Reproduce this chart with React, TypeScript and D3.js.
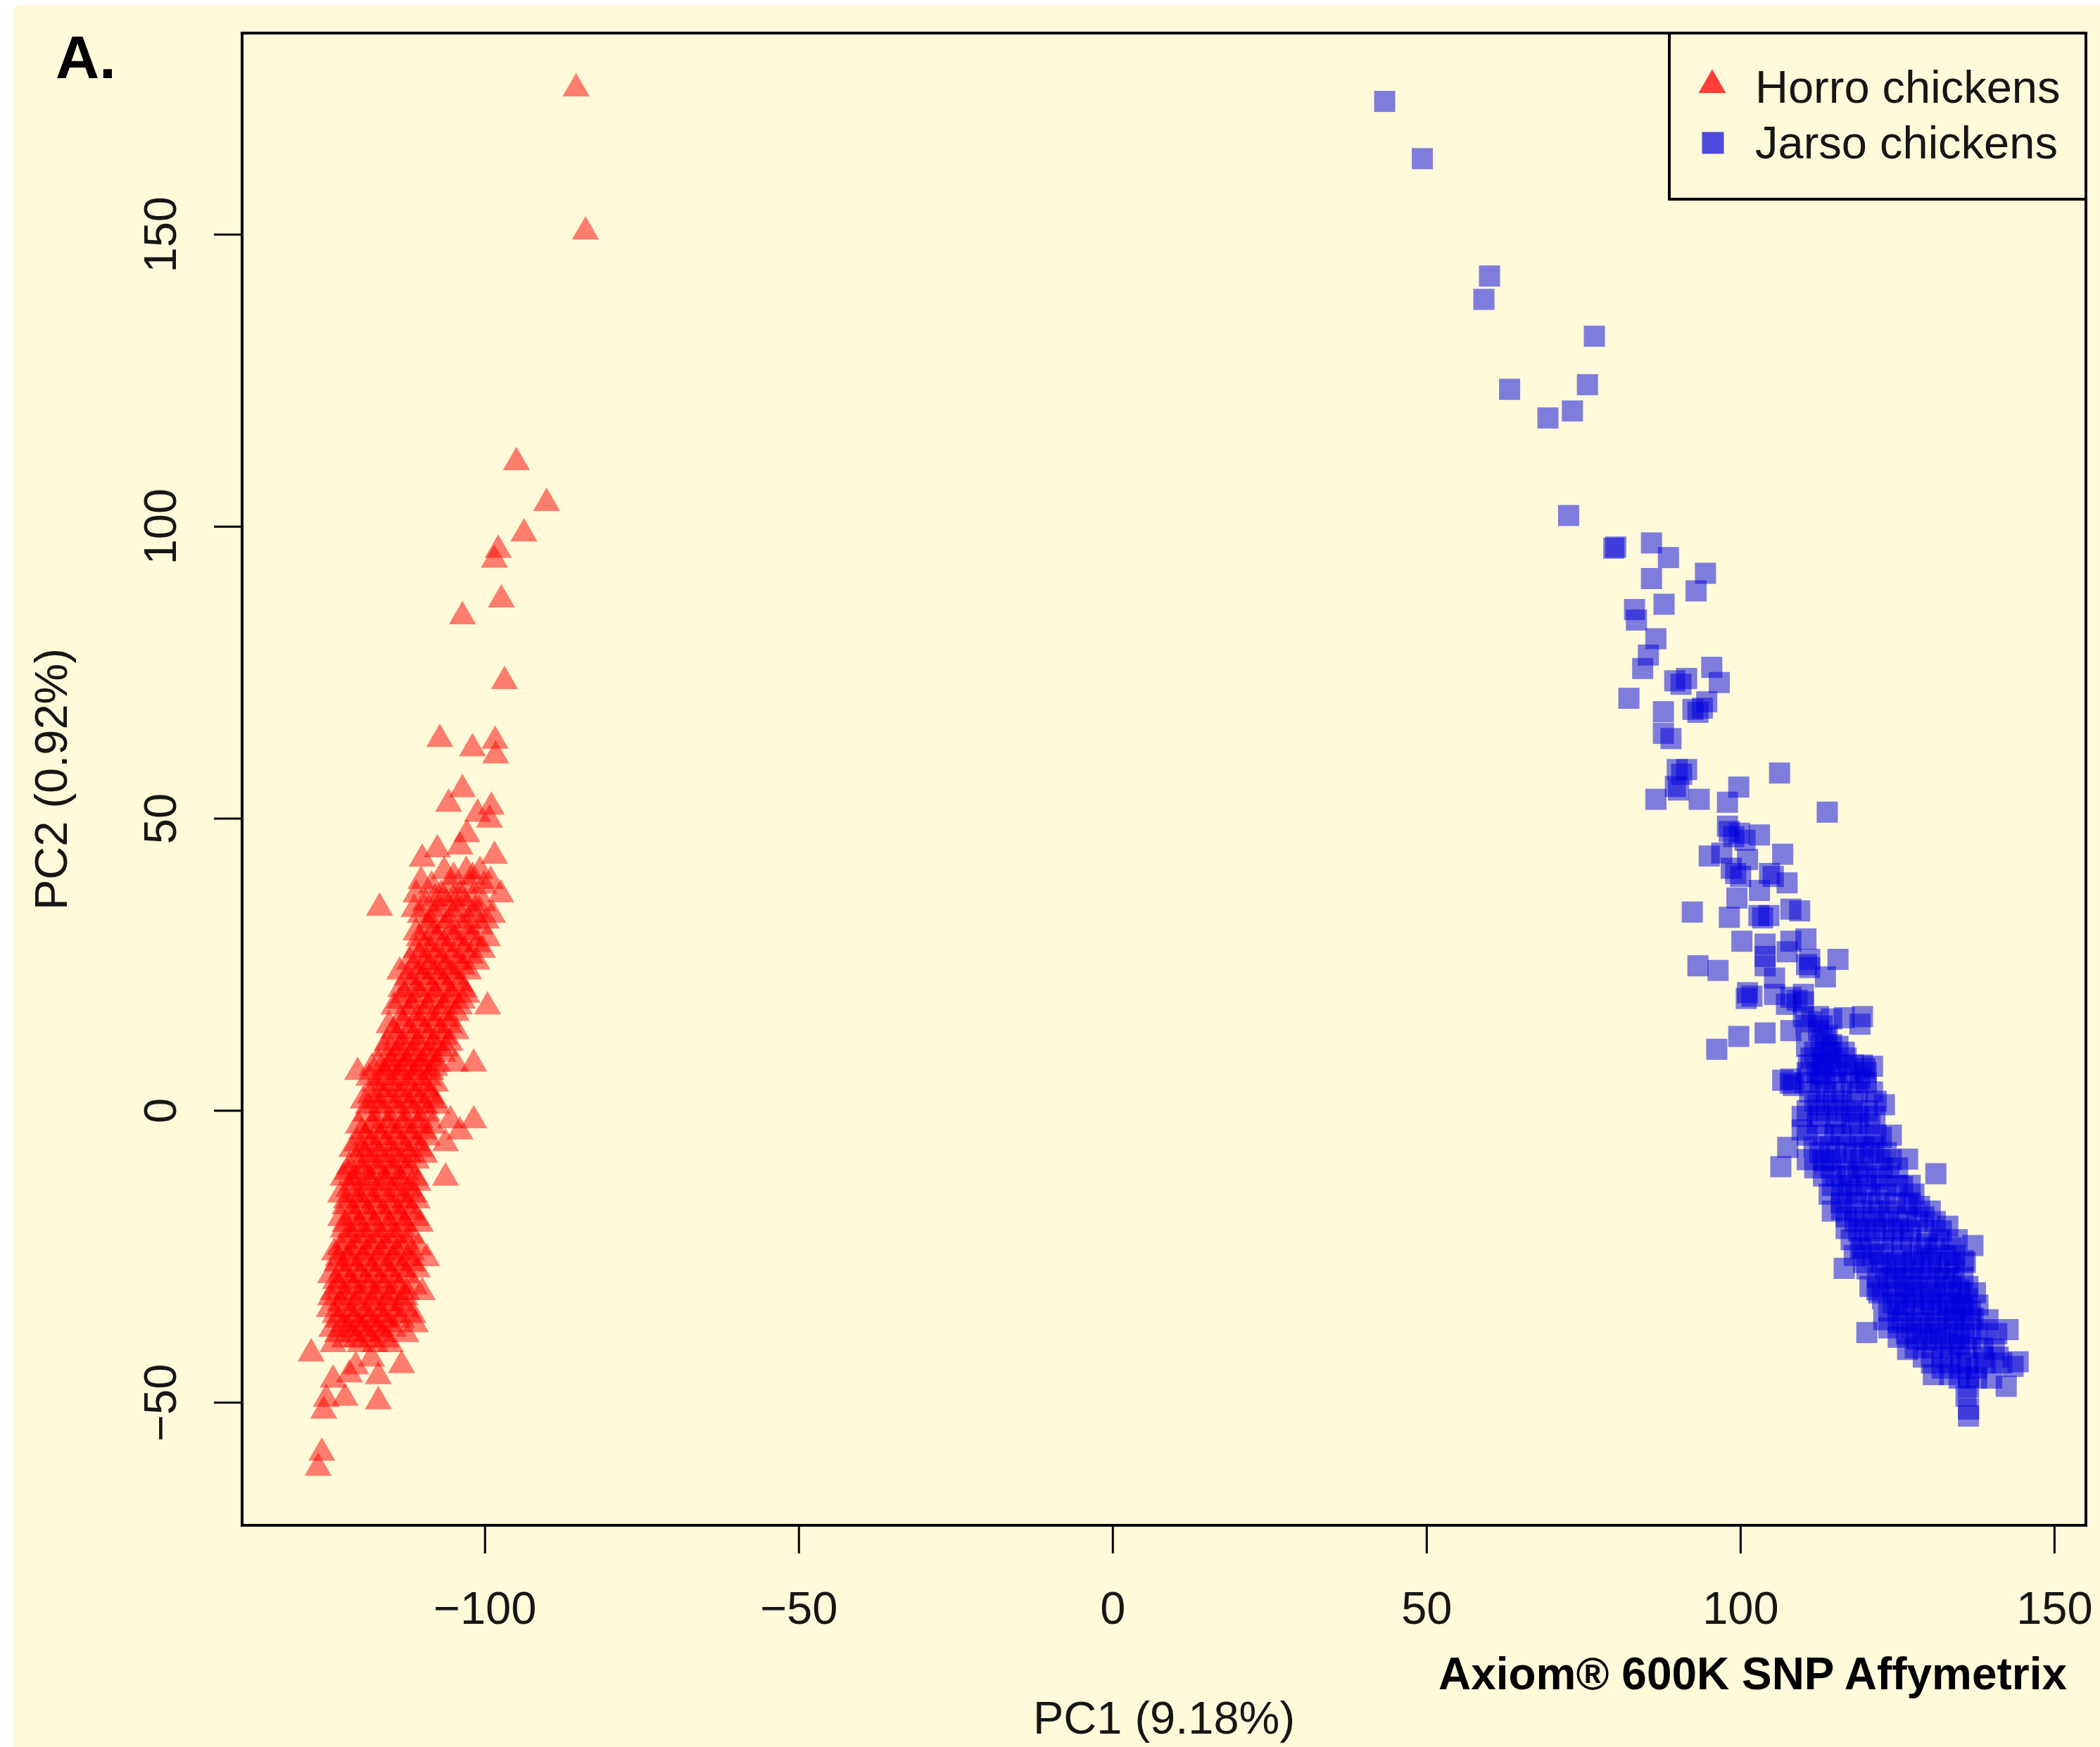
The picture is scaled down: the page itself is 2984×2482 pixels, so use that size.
import React from 'react';
import * as d3 from 'd3';

const xTicks = [-100, -50, 0, 50, 100, 150];
const yTicks = [-50, 0, 50, 100, 150];
const seriesNames = ['Horro chickens', 'Jarso chickens'];
const xLabel = 'PC1 (9.18%)';
const yLabel = 'PC2 (0.92%)';
const panelLabel = 'A.';
const platformLabel = 'Axiom® 600K SNP Affymetrix';

// Horro chickens: scattered individuals [PC1, PC2]
const horroScattered: [number, number][] = [
  [-85.5, 175], [-84, 150.5], [-95, 111], [-90.2, 104], [-93.8, 98.8], [-97.9, 96], [-98.5, 94.3],
  [-97.4, 87.5], [-103.6, 84.6], [-96.9, 73.5], [-107.2, 63.6], [-102, 62], [-98.4, 63.3], [-98.3, 60.8],
  [-103.6, 55], [-105.8, 52.5], [-99, 52], [-101.2, 50.8], [-99.3, 49.8], [-102.9, 47.3], [-107.6, 44.7],
  [-104, 45.2], [-98.5, 43.6], [-110, 43.1], [-110.2, 39.3], [-99.1, 39.3], [-116.8, 34.7],
  [-127.7, -41.6], [-113.3, -43.6], [-120.6, -43.8], [-118.1, -42.5], [-117, -45.5], [-121.6, -45.2],
  [-124.2, -46.1], [-125.3, -49.4], [-122.3, -49.2], [-117, -49.8], [-125.7, -51.4], [-126, -58.6], [-126.6, -61.2],
];

// Horro chickens: dense core, read row by row as [PC2, PC1 values]
const horroCoreRows: [number, number[]][] = [
  [41, [-106.5, -103, -100.8]],
  [40, [-105, -102]],
  [38.5, [-108.5, -105.5, -102.5, -100.2]],
  [37, [-111, -107, -104, -97.5]],
  [36.3, [-108, -105, -102]],
  [35.5, [-109.5, -106.2, -103.2, -100.3]],
  [34.5, [-111.3, -107.5, -104.5, -101.5]],
  [33.5, [-110.3, -108, -105, -101.7, -98.8]],
  [32.5, [-108.8, -105.7, -102.7, -99.8]],
  [31.5, [-109, -106.4, -103.6, -100.8]],
  [30.5, [-111, -108.2, -105.4, -102.5]],
  [29.5, [-110.5, -107.7, -105, -102.2, -99.6]],
  [28.5, [-109.4, -106.6, -104, -101.2]],
  [27.5, [-111, -108.6, -106, -103.3, -100.4]],
  [26.5, [-110.4, -107.8, -105.1, -102.3]],
  [25.5, [-112, -109.3, -106.8, -104.1, -101.3]],
  [24.6, [-111.4, -108.9, -106.3, -103.6]],
  [23.8, [-113.6, -110.5, -108, -105.5, -102.6]],
  [22.8, [-112.4, -109.8, -107.2, -104.8]],
  [21.8, [-111.7, -109.1, -106.6, -104]],
  [20.8, [-113.4, -110.9, -108.4, -106, -103.4]],
  [19.8, [-112.9, -110.3, -107.9, -105.3, -102.9]],
  [18.8, [-113.6, -111.2, -108.6, -106, -103.6]],
  [17.8, [-114.5, -111.6, -109, -106.5, -104.1, -99.6]],
  [16.7, [-112.2, -109.6, -107.1, -104.6]],
  [15.7, [-113.4, -110.8, -108.4, -105.9]],
  [14.6, [-115.3, -113, -110.4, -108, -105.7]],
  [13.6, [-114.6, -112, -109.6, -107.1, -104.6]],
  [12.6, [-114, -111.4, -108.9, -106.4]],
  [11.6, [-115.6, -113.1, -110.6, -108.1, -105.6]],
  [10.6, [-116, -113.6, -111.2, -108.7, -106.3]],
  [9.7, [-114.1, -111.6, -109.1, -106.7]],
  [8.9, [-115.6, -113.2, -110.8, -108.3]],
  [8.0, [-117, -114.9, -112.4, -110, -107.6, -104.7, -101.8]],
  [7.3, [-118, -115.5, -113, -110.5, -108]],
  [6.6, [-120.3, -116.1, -113.6, -111.1, -108.6]],
  [5.6, [-118.5, -116.3, -113.9, -111.4, -109]],
  [4.6, [-117.6, -115.1, -112.6, -110.1, -107.9]],
  [3.6, [-116.7, -114.2, -111.7, -109.3]],
  [2.6, [-118.3, -115.9, -113.4, -111.1, -108.7]],
  [1.7, [-119.4, -117.2, -114.8, -112.4, -110.2, -108]],
  [0.8, [-118.6, -116.6, -114.1, -111.9, -109.6, -107.7]],
  [-0.5, [-119, -116.5, -114, -111.6, -109.2]],
  [-1.7, [-117.6, -115.1, -112.7, -110.3, -105.5, -101.8]],
  [-2.6, [-120.2, -118, -115.6, -113.2, -110.8, -108.4]],
  [-3.6, [-119.6, -117.1, -114.6, -112.1, -109.6, -104]],
  [-4.6, [-119, -116.6, -114.2, -111.8, -109.2]],
  [-5.6, [-120.4, -118.1, -115.7, -113.3, -110.9, -106.3]],
  [-6.6, [-121.2, -119.6, -117.3, -114.9, -112.6, -110.2]],
  [-7.6, [-119.1, -116.9, -114.5, -112.1, -109.6]],
  [-8.6, [-120.5, -118, -115.6, -113.3, -110.9]],
  [-9.6, [-121.6, -119.4, -117.1, -114.7, -112.3]],
  [-10.5, [-121.9, -119.6, -117.3, -114.9, -112.6]],
  [-11.5, [-122.6, -120.9, -118.6, -116.1, -113.7, -111.1, -106.3]],
  [-12.4, [-121, -118.1, -115.7, -113.2, -110.7]],
  [-13.4, [-121.7, -119.3, -116.9, -114.5, -112.1]],
  [-14.4, [-123, -120.5, -118.3, -115.8, -113.4, -111.3]],
  [-15.4, [-122.1, -119.9, -117.6, -115.1, -112.7, -110.8]],
  [-16.4, [-122.3, -119.9, -117.5, -115.1, -112.7]],
  [-17.4, [-121.1, -118.7, -116.3, -113.9, -111.6]],
  [-18.4, [-123, -120.6, -118.2, -115.8, -113.4, -111]],
  [-19.4, [-122.3, -120.1, -117.7, -115.3, -112.9, -110.3]],
  [-20.4, [-122.6, -120.3, -117.9, -115.5, -113.1]],
  [-21.4, [-121.5, -119.1, -116.7, -114.3, -111.7]],
  [-22.4, [-122.3, -119.9, -117.5, -115.1, -112.6]],
  [-23.4, [-123.1, -120.7, -118.3, -115.9, -113.5, -110.6]],
  [-24.3, [-124, -121.3, -118.9, -116.5, -114.1, -111.7]],
  [-25.3, [-123.4, -121.9, -119.5, -117.1, -114.7, -112.3, -109.3]],
  [-26.2, [-123.6, -121.1, -118.7, -116.3, -113.9, -111.5]],
  [-27.2, [-122.7, -120.3, -117.9, -115.5, -113.1, -110.8]],
  [-28.2, [-124.6, -122.3, -119.9, -117.5, -115.1, -112.5]],
  [-29.2, [-123.8, -121.5, -119.1, -116.7, -114.3]],
  [-30.1, [-123.2, -120.8, -118.4, -116, -113.6, -111.3]],
  [-31.1, [-124.2, -122.1, -119.7, -117.3, -114.9, -112.5, -110]],
  [-32.0, [-124.6, -122.3, -119.9, -117.5, -115.1, -112.7]],
  [-33.0, [-123.1, -120.6, -118.1, -115.7, -113.3]],
  [-34.0, [-124.8, -122.2, -119.8, -117.4, -115, -112.5]],
  [-35.0, [-123.9, -121.3, -118.9, -116.5, -114.1, -111.5]],
  [-35.8, [-123.4, -120.9, -118.5, -116.1, -113.3]],
  [-36.6, [-122.5, -120.1, -117.7, -115.3, -111.1]],
  [-37.4, [-124.4, -121.9, -119.5, -117.1, -114.6]],
  [-38.3, [-123.5, -121.1, -118.7, -116.3, -112.6]],
  [-39.2, [-122.4, -120.5, -118.2, -115.8]],
  [-40.0, [-124.2, -119.9, -117.5, -115.1]],
];

// Jarso chickens: individually readable points [PC1, PC2]
const jarsoScattered: [number, number][] = [
  [43.3, 172.8], [49.3, 163], [60, 142.9], [59.1, 138.9], [76.7, 132.6], [63.2, 123.5], [75.6, 124.3],
  [73.2, 119.8], [69.3, 118.6], [72.6, 101.9], [79.8, 96.3], [80.1, 96.5], [85.8, 97.2], [88.5, 94.7],
  [94.4, 92], [92.9, 89], [85.8, 91.1], [87.8, 86.7], [83.1, 85.8], [83.4, 84],
  [86.5, 80.8], [85.3, 78], [84.4, 75.7], [82.2, 70.6], [89.5, 73.6], [90.5, 73], [91.4, 74], [95.4, 75.9],
  [96.6, 73.3], [87.7, 68.3], [92.4, 68.7], [93.2, 68.2], [93.9, 68.9], [94.6, 70], [87.7, 64.6], [88.9, 63.7],
  [89.9, 58.4], [90.6, 57.6], [91.4, 58.4], [90.1, 54.9], [89.6, 55.5], [86.5, 53.3], [93.4, 53.3], [99.7, 55.4],
  [97.9, 52.8], [106.2, 57.8], [113.8, 51.1], [97.9, 48.7], [98.2, 47.8], [98.9, 46.9], [99.8, 47.5],
  [100.7, 46.3], [103, 47.2], [95, 43.6], [97, 44.1], [101.1, 43], [106.7, 43.9], [98.5, 41.5], [99.2, 40.6],
  [100, 40.1], [104.6, 40.6], [105.2, 40.1], [107.4, 39], [103, 37.7], [99.4, 36.4], [92.3, 34], [98.2, 33.1],
  [102.9, 33.4], [103.5, 33], [104.5, 33.4], [108, 34.5], [109.4, 34.2], [100.2, 29], [103.9, 28.5], [108, 29],
  [110.4, 29.4], [103.9, 26.4], [107.4, 27.2], [111, 25.9], [110.5, 25], [111, 24.5], [115.5, 25.9], [93.2, 24.8],
  [96.4, 24], [103.9, 24.8], [105.4, 22.7], [113.5, 22.9], [101.1, 20.2], [101.8, 19.6], [100.9, 19.2],
  [105.4, 19.9], [108, 19.4], [109, 18.9], [107.3, 18.2], [110, 19.9], [110, 18.6], [110, 16.1], [111.3, 15.2],
  [112.4, 16.1], [114.5, 15.7], [116.5, 15.9], [119.4, 16.1], [119, 14.8], [110.4, 14.6], [113, 14.5],
  [112.4, 13.7], [113.8, 12.9], [113.5, 12.4], [114.5, 11.3], [108, 13.7], [103.9, 13.3], [99.7, 12.7],
  [96.2, 10.5], [113.5, 10], [114, 8.8], [114.5, 7.6], [119.4, 7.8], [120, 6.5], [121, 7.6], [112.8, 6.2],
  [108, 5.4], [108.4, 4.3], [113.5, 5.4], [119, 5.5],
  [107.9, 4.7], [106.7, 5.2], [113.1, 8.1], [119.8, 7.2], [112.3, 1], [115.4, 1], [118.4, -0.4], [122.9, 1],
  [109.8, -3.3], [107.5, -6.3], [106.4, -9.6], [113.5, -8.6], [115, -4.1], [118.4, -4.6], [122.4, -4.6],
  [126.6, -8.3], [131.1, -10.8], [118.7, -10.5], [121.7, -11.7], [116.1, -13.4], [118.4, -13.9], [125.8, -13],
  [116.1, -16.9], [126.6, -16], [128.5, -16.4], [133, -19.8], [116.8, -20.2], [119.8, -20.2], [122.9, -20.2],
  [125.8, -20.2], [129.6, -22.8], [137, -23.1], [116.5, -27], [119.1, -23.6], [122.1, -24.5], [124.3, -26.5],
  [127.4, -25.7], [130.3, -25.3], [134.1, -24.8], [135.5, -25.7], [121.7, -30.7], [123.5, -28.7], [126.6, -28.7],
  [129.6, -28.7], [132.5, -28.7], [134.8, -30.7], [124.3, -32.9], [127.4, -32], [130.3, -32.5], [133.3, -32.9],
  [135.2, -33.7], [125.1, -36.3], [128, -36.3], [131.1, -36.3], [134.1, -35.5], [137, -35.5], [142.6, -37.5],
  [139.2, -37.5], [120.1, -38], [125.1, -38.8], [126.6, -40.9], [129.6, -39.3], [132.5, -39.6], [134.8, -40.1],
  [140.4, -40.9], [144.2, -43], [143.4, -43.8], [130.7, -45.2], [133.3, -45.2], [136.3, -45.6], [136.3, -47.4],
  [142.3, -47.2], [135.9, -48.9], [136.3, -51.1], [136.3, -52.3],
];

// Jarso chickens: dense core, read row by row as [PC2, PC1 values]
const jarsoCoreRows: [number, number[]][] = [
  [11, [110.5, 112.8, 115.5]],
  [10, [111.8, 114.2, 116.5]],
  [9, [111.2, 116.8]],
  [7.8, [110.8, 113, 116, 118]],
  [6.5, [110.6, 112.2, 115.3, 117.2]],
  [4.8, [110.2, 112.6, 115, 117.6, 120]],
  [3.2, [111, 113.6, 116.1, 118.6, 121]],
  [1.6, [111.8, 114.8, 117.8, 121.6]],
  [0, [110.6, 113.7, 116.8, 120.2]],
  [-1, [109.8, 112.6, 115.6, 118.8, 121.4]],
  [-2.2, [112.2, 115.2, 117.7, 120.6]],
  [-4.2, [110.6, 113.2, 116, 119, 121.6, 124]],
  [-6.2, [111.7, 114.2, 116.7, 119.6, 121.2]],
  [-7.2, [112.6, 115.2, 118, 120.6, 123.2]],
  [-8.4, [110.6, 113.1, 116.2, 119.1, 122.2, 124]],
  [-9.8, [111.8, 114.4, 116.8, 119.4, 122.6, 125]],
  [-11.2, [113.2, 115.1, 117.2, 120.1, 123.6]],
  [-12.8, [114.6, 117.6, 120, 122.4, 125, 127]],
  [-14.3, [114.1, 117.1, 120.6, 123.1, 127.6]],
  [-15.8, [116, 119.4, 122, 124.6, 127]],
  [-17.2, [114.6, 118.1, 121.1, 123.6, 130.2]],
  [-18.2, [116.8, 119.8, 123, 126.4, 129.2]],
  [-19, [118.2, 121.6, 125.1, 128.1, 131]],
  [-20.6, [118.8, 121.4, 124.4, 127, 129.8, 132]],
  [-22.1, [117.6, 120.6, 124.1, 127.1, 131.6, 134.5]],
  [-23.5, [119.4, 122.8, 125.6, 128.6, 131, 133.6]],
  [-24.8, [118.1, 121.1, 125.6, 129.1, 132.6]],
  [-26, [119.6, 122.4, 124.8, 127.6, 130.4, 133.2, 135.8]],
  [-27.1, [120.1, 123.1, 126.1, 128.6, 131.6, 134]],
  [-28.6, [121.8, 124.8, 127.4, 130, 133, 135.4]],
  [-30.1, [120.6, 124.1, 126.1, 128.1, 131.1, 133.6, 136.2]],
  [-31.2, [122, 125, 127.6, 130.2, 132.6, 135, 137.4]],
  [-32.2, [122.6, 126.1, 129.1, 131.6, 136.1]],
  [-33.3, [125, 127.6, 130.4, 133, 135.4, 137.8]],
  [-34.3, [123.6, 126.1, 129.1, 132.1, 134.1, 136.6]],
  [-35.8, [122.8, 125.8, 128.6, 131.4, 134, 136.6, 139.4]],
  [-37.2, [123.6, 127.1, 130.1, 133.1, 135.6]],
  [-38.2, [126.4, 129, 131.8, 134.8, 137.6, 140.8]],
  [-39.1, [128.1, 131.1, 134.1, 136.6]],
  [-40.6, [127.8, 130.6, 133.4, 136, 138.6]],
  [-42.2, [129.1, 132.1, 135.1, 138.6, 141]],
  [-43.2, [130.4, 133.4, 136.2, 139, 141.6]],
  [-44.1, [132.1, 135.1, 137.6]],
  [-45.8, [134.8, 137.6, 140]],
];

const expandRows = (rows: [number, number[]][]): [number, number][] =>
  rows.flatMap(([y, xs]) => xs.map((x) => [x, y] as [number, number]));

const horro = [...horroScattered, ...expandRows(horroCoreRows)];
const jarso = [...jarsoScattered, ...expandRows(jarsoCoreRows)];

const CREAM = '#FFFAD9';
const INK = '#161616';
const FONT = "'Liberation Sans', Arial, sans-serif";

export default function App() {
  const box = { left: 344, top: 47, right: 2964, bottom: 2167 };
  const x = d3.scaleLinear().domain([-138.7, 155.0]).range([box.left, box.right]);
  const y = d3.scaleLinear().domain([-71, 184.5]).range([box.bottom, box.top]);

  const tri = d3.symbol().type(d3.symbolTriangle).size(640)() as string;
  const triLegend = d3.symbol().type(d3.symbolTriangle).size(660)() as string;
  const sq = 30;
  const sqLegend = 31;

  const fmt = (v: number) => (v < 0 ? '\u2212' + Math.abs(v) : String(v));

  return (
    <svg
      width={2984}
      height={2482}
      style={{ position: 'absolute', left: 0, top: 0, display: 'block' }}
      xmlns="http://www.w3.org/2000/svg"
    >
      <rect x={0} y={0} width={2984} height={2482} fill="#ffffff" />
      <rect x={20} y={8} width={2964} height={2474} fill={CREAM} />

      <text x={79} y={111} fontFamily={FONT} fontWeight="bold" fontSize={86} fill="#000">
        {panelLabel}
      </text>

      <g>
        {horro.map(([px, py], i) => (
          <path key={'h' + i} d={tri} transform={`translate(${x(px)},${y(py)})`} fill="rgba(255,0,0,0.5)" />
        ))}
      </g>
      <g>
        {jarso.map(([px, py], i) => (
          <rect
            key={'j' + i}
            x={x(px) - sq / 2}
            y={y(py) - sq / 2}
            width={sq}
            height={sq}
            fill="rgba(0,0,221,0.5)"
          />
        ))}
      </g>

      <rect
        x={box.left}
        y={box.top}
        width={box.right - box.left}
        height={box.bottom - box.top}
        fill="none"
        stroke="#000"
        strokeWidth={4}
      />

      {xTicks.map((t) => (
        <g key={'xt' + t}>
          <line x1={x(t)} x2={x(t)} y1={box.bottom} y2={box.bottom + 40} stroke="#000" strokeWidth={3} />
          <text x={x(t)} y={2307} textAnchor="middle" fontFamily={FONT} fontSize={65} fill={INK}>
            {fmt(t)}
          </text>
        </g>
      ))}
      {yTicks.map((t) => (
        <g key={'yt' + t}>
          <line x1={box.left - 40} x2={box.left} y1={y(t)} y2={y(t)} stroke="#000" strokeWidth={3} />
          <text
            transform={`translate(250,${y(t)}) rotate(-90)`}
            textAnchor="middle"
            fontFamily={FONT}
            fontSize={65}
            fill={INK}
          >
            {fmt(t)}
          </text>
        </g>
      ))}

      <text x={(box.left + box.right) / 2} y={2463} textAnchor="middle" fontFamily={FONT} fontSize={65} fill={INK}>
        {xLabel}
      </text>
      <text
        transform={`translate(95,${(box.top + box.bottom) / 2}) rotate(-90)`}
        textAnchor="middle"
        fontFamily={FONT}
        fontSize={65}
        fill={INK}
      >
        {yLabel}
      </text>

      <text
        x={2044}
        y={2400}
        fontFamily={FONT}
        fontWeight="bold"
        fontSize={65}
        textLength={893}
        lengthAdjust="spacingAndGlyphs"
        fill="#000"
      >
        {platformLabel}
      </text>

      <g>
        <rect x={2372} y={47} width={2964 - 2372} height={283 - 47} fill={CREAM} stroke="#000" strokeWidth={4} />
        <path d={triLegend} transform="translate(2433,121)" fill="rgba(255,0,0,0.75)" />
        <rect x={2434 - sqLegend / 2} y={203 - sqLegend / 2} width={sqLegend} height={sqLegend} fill="rgba(0,0,221,0.7)" />
        <text x={2494} y={146} fontFamily={FONT} fontSize={65} fill={INK}>
          {seriesNames[0]}
        </text>
        <text x={2494} y={225} fontFamily={FONT} fontSize={65} fill={INK}>
          {seriesNames[1]}
        </text>
      </g>
    </svg>
  );
}
